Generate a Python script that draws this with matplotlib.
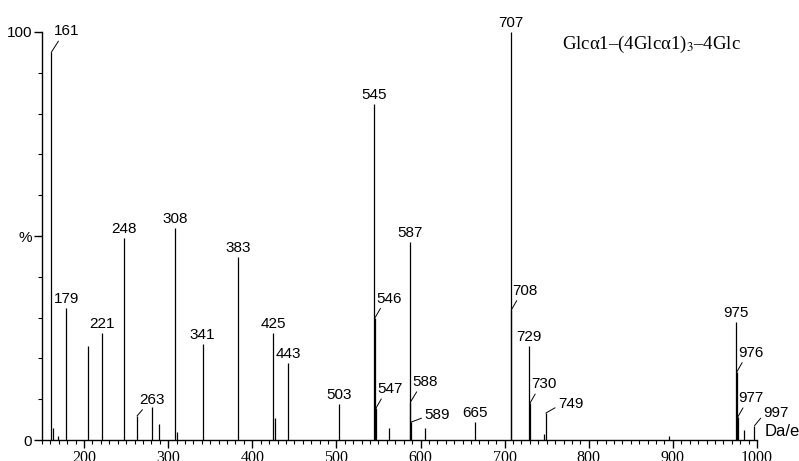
import matplotlib
matplotlib.use("Agg")
import matplotlib.pyplot as plt
from matplotlib.ticker import MultipleLocator, FixedLocator, FixedFormatter

# peak list (m/z, relative intensity %)
mz = [161, 163, 169, 179, 205, 221, 248, 263, 281, 289, 308, 310, 341, 383,
      425, 427, 443, 503, 545, 546, 547, 563, 587, 588, 589, 605, 665, 707,
      708, 729, 730, 747, 749, 895, 975, 976, 977, 985, 997]
intensity = [95, 3, 1, 32.4, 23, 26.2, 49.5, 5.9, 8, 4, 52, 2, 23.5, 44.9,
             26.2, 5.4, 18.9, 8.8, 82.4, 30, 7.8, 3, 48.5, 9.3, 4.4, 3, 4.4, 100,
             31.9, 23, 9, 1.5, 6.6, 1, 29, 16.7, 5.6, 2.5, 3.5]

# labelled peaks: plain ones sit on top of the line
top_labels = [179, 221, 248, 308, 341, 383, 425, 443, 503, 545, 587, 665, 707, 729, 975]
# the others get a small leader line, offset in pixels (dx, dy)
leader_labels = {161: (3, 14), 263: (2, 9), 546: (1, 12), 547: (1, 12),
                 588: (2, 13), 708: (1, 12), 730: (1, 12),
                 976: (1, 12), 977: (1, 12)}
side_labels = {589: (13, 0), 749: (12, 2), 997: (9, 6)}

title = "Glc\u03b11\u2013(4Glc\u03b11)$_3$\u20134Glc"

plt.rcParams['mathtext.fontset'] = 'stix'
fig = plt.figure(figsize=(7.99, 4.61), dpi=100)
ax = fig.add_axes([42/799, 21/461, 715/799, 408/461])

ax.vlines(mz, 0, intensity, color='black', lw=0.9)

peak = dict(zip(mz, intensity))
lab_font = dict(family='Liberation Sans', fontsize=11)
for m in top_labels:
    ax.annotate(str(m), (m, peak[m]), xytext=(0, 2), textcoords='offset pixels',
                ha='center', va='bottom', annotation_clip=False, **lab_font)
for labels, rp in [(leader_labels, (0.25, 0.05)), (side_labels, (0.0, 0.35))]:
    for m, (dx, dy) in labels.items():
        ax.annotate(str(m), (m, peak[m]), xytext=(dx, dy), textcoords='offset pixels',
                    ha='left', va='bottom', annotation_clip=False,
                    arrowprops=dict(arrowstyle='-', lw=0.7, color='black',
                                    shrinkA=0, shrinkB=0, relpos=rp),
                    **lab_font)

ax.set_xlim(150, 1000)
ax.set_ylim(0, 100)
ax.spines['top'].set_visible(False)
ax.spines['right'].set_visible(False)
ax.spines['left'].set_linewidth(1.0)
ax.spines['bottom'].set_linewidth(1.0)

ax.xaxis.set_major_locator(MultipleLocator(100))
ax.xaxis.set_minor_locator(MultipleLocator(10))
ax.yaxis.set_major_locator(FixedLocator([0, 50, 100]))
ax.yaxis.set_major_formatter(FixedFormatter(['0', '%', '100']))
ax.yaxis.set_minor_locator(MultipleLocator(10))
ax.tick_params(axis='x', which='major', length=6, width=1, pad=1)
ax.tick_params(axis='x', which='minor', length=3, width=0.8)
ax.tick_params(axis='y', which='major', length=6, width=1, pad=1)
ax.tick_params(axis='y', which='minor', length=3, width=0.8)
for t in ax.get_xticklabels():
    t.set_family('Liberation Serif')
    t.set_fontsize(11.5)
for t in ax.get_yticklabels():
    t.set_family('Liberation Sans')
    t.set_fontsize(11)

ax.text(1.01, 0.02, 'Da/e', transform=ax.transAxes, ha='left', va='center',
        family='Liberation Sans', fontsize=12)
ax.text(0.727, 0.97, title, transform=ax.transAxes, ha='left', va='center',
        family='Liberation Serif', fontsize=13.5)

fig.savefig('out.png', dpi=100)
